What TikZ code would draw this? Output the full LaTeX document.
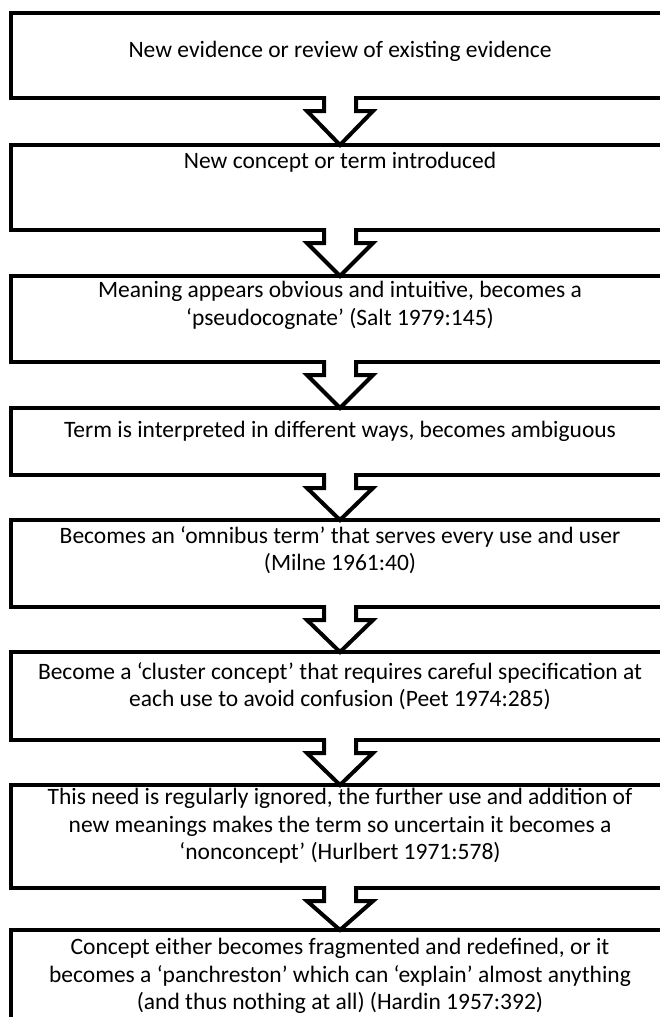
\documentclass[tikz,border=0pt]{standalone}
\usepackage{fontspec}
\setmainfont{Carlito}
\usetikzlibrary{calc}
\tikzset{
  stage/.style={draw=black, line width=4pt, fill=white, outer sep=0pt, inner sep=0pt,
    minimum width=658pt, minimum height=85pt},
  stagetext/.style={align=center, inner sep=0pt, font=\fontsize{23.5}{27.5}\selectfont},
  flowarrow/.style={draw=black, fill=white, line width=4pt, line join=miter}
}
\newcommand{\flowarr}[2]{%
  \path[flowarrow] ($(#1.south)+(-16,-2)$) -- ($(#1.south)+(-16,13)$) -- ($(#1.south)+(-33,13)$)
    -- (#2.north) -- ($(#1.south)+(33,13)$) -- ($(#1.south)+(16,13)$) -- ($(#1.south)+(16,-2)$);}
\begin{document}
\begin{tikzpicture}[x=1pt,y=-1pt]
\useasboundingbox (0,0) rectangle (660,1017);
\clip (0,0) rectangle (660,1017);
\fill[white] (0,0) rectangle (660,1017);
\node[stage] (b1) at (340,55.5) {};
\node[stage] (b2) at (340,187.5) {};
\node[stage, minimum height=86pt] (b3) at (340,319) {};
\node[stage, minimum height=67pt] (b4) at (340,441.5) {};
\node[stage, minimum height=87pt] (b5) at (340,563.5) {};
\node[stage, minimum height=88pt] (b6) at (340,696) {};
\node[stage, minimum height=103pt] (b7) at (340,836.5) {};
\node[stage, minimum height=110pt] (b8) at (340,985) {};
\flowarr{b1}{b2}
\flowarr{b2}{b3}
\flowarr{b3}{b4}
\flowarr{b4}{b5}
\flowarr{b5}{b6}
\flowarr{b6}{b7}
\flowarr{b7}{b8}
\node[stagetext] (t1) at (340,51) {New evidence or review of existing evidence};
\node[stagetext, anchor=north] (t2) at (340,152) {New concept or term introduced};
\node[stagetext, anchor=north] (t3) at (340,281) {Meaning appears obvious and intuitive, becomes a\\ ‘pseudocognate’ (Salt 1979:145)};
\node[stagetext, anchor=north] (t4) at (340,421) {Term is interpreted in different ways, becomes ambiguous};
\node[stagetext, anchor=north] (t5) at (340,526) {Becomes an ‘omnibus term’ that serves every use and user\\ (Milne 1961:40)};
\node[stagetext, anchor=north] (t6) at (340,662) {Become a ‘cluster concept’ that requires careful specification at\\ each use to avoid confusion (Peet 1974:285)};
\node[stagetext, anchor=north] (t7) at (340,788) {This need is regularly ignored, the further use and addition of\\ new meanings makes the term so uncertain it becomes a\\ ‘nonconcept’ (Hurlbert 1971:578)};
\node[stagetext, anchor=north] (t8) at (340,938) {Concept either becomes fragmented and redefined, or it\\ becomes a ‘panchreston’ which can ‘explain’ almost anything\\ (and thus nothing at all) (Hardin 1957:392)};
\end{tikzpicture}
\end{document}
